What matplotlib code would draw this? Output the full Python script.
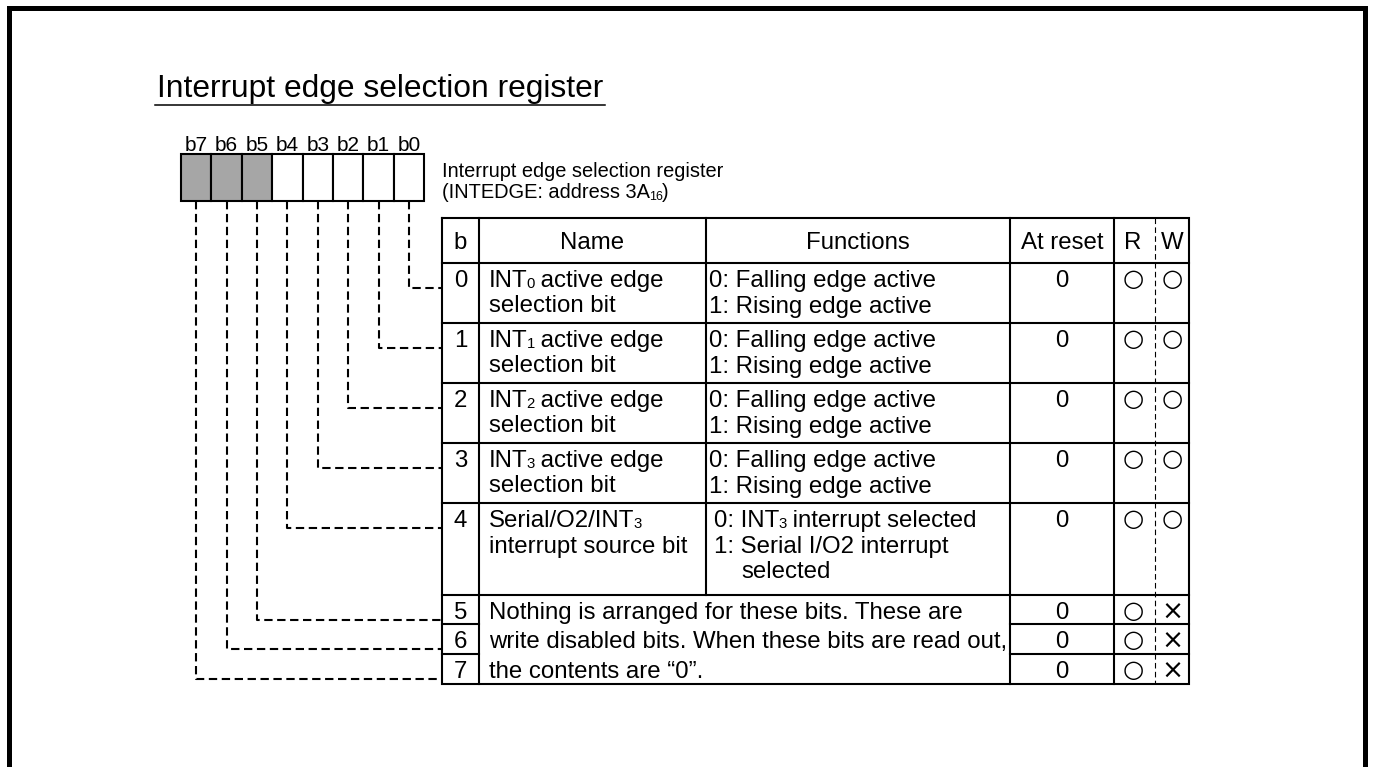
import re
import matplotlib.pyplot as plt
from matplotlib.patches import Rectangle

plt.rcParams['font.family'] = ['Liberation Sans', 'DejaVu Sans']

# Data  (subscripts written as _{..})
title = "Interrupt edge selection register"
register_desc = ["Interrupt edge selection register", "(INTEDGE: address 3A_{16})"]
bit_labels = ["b7", "b6", "b5", "b4", "b3", "b2", "b1", "b0"]
bit_unused = [True, True, True, False, False, False, False, False]
headers = ["b", "Name", "Functions", "At reset", "R", "W"]
bit_numbers = ["0", "1", "2", "3", "4", "5", "6", "7"]
names = [
    ["INT_{0} active edge", "selection bit"],
    ["INT_{1} active edge", "selection bit"],
    ["INT_{2} active edge", "selection bit"],
    ["INT_{3} active edge", "selection bit"],
    ["Serial/O2/INT_{3}", "interrupt source bit"],
]
functions = [
    ["0: Falling edge active", "1: Rising edge active"],
    ["0: Falling edge active", "1: Rising edge active"],
    ["0: Falling edge active", "1: Rising edge active"],
    ["0: Falling edge active", "1: Rising edge active"],
    ["0: INT_{3} interrupt selected", "1: Serial I/O2 interrupt", "selected"],
]
unused_note = ["Nothing is arranged for these bits. These are",
               "write disabled bits. When these bits are read out,",
               "the contents are \u201c0\u201d."]
at_reset = ["0", "0", "0", "0", "0", "0", "0", "0"]
readable = ["\u25cb", "\u25cb", "\u25cb", "\u25cb", "\u25cb", "\u25cb", "\u25cb", "\u25cb"]
writable = ["\u25cb", "\u25cb", "\u25cb", "\u25cb", "\u25cb", "\u00d7", "\u00d7", "\u00d7"]

# Layout (pixels, y grows downward)
W, H = 1374, 767
COLS = [442, 479, 706, 1010, 1114, 1189]
RW_SPLIT = 1155
R_X, W_X = 1133, 1172
ROWS = [218, 263, 323, 383, 443, 503, 595, 624, 654, 684]
BOX_X0, BOX_W, BOX_Y0, BOX_Y1 = 181, 30.4, 154, 201
LINE = 25.5
LW = 1.5
FS = 17.3

fig = plt.figure(figsize=(W / 100, H / 100), dpi=100)
ax = fig.add_axes([0, 0, 1, 1])
ax.set_xlim(0, W)
ax.set_ylim(H, 0)
ax.axis('off')
renderer = fig.canvas.get_renderer()


def rich(x, y, s, size):
    # draw text with small baseline subscripts, left aligned at baseline y
    parts = re.split(r"_\{(.*?)\}", s)
    for k, part in enumerate(parts):
        if not part:
            continue
        small = k % 2 == 1
        t = ax.text(x, y + (1.5 if small else 0), part, fontsize=size * (0.62 if small else 1),
                    va='baseline', ha='left')
        x += t.get_window_extent(renderer).width - 1


# outer frame (open at bottom)
ax.plot([8.5, 8.5, 1364.5, 1364.5], [H + 5, 7.5, 7.5, H + 5], color='black', lw=3.6,
        solid_joinstyle='miter')

# title
ax.text(157, 97, title, fontsize=22.9, va='baseline', ha='left')
ax.plot([155, 605], [105, 105], color='black', lw=1.1)

# bit boxes
for i, (lab, unused) in enumerate(zip(bit_labels, bit_unused)):
    x0 = BOX_X0 + i * BOX_W
    ax.add_patch(Rectangle((x0, BOX_Y0), BOX_W, BOX_Y1 - BOX_Y0,
                           facecolor='#a6a6a6' if unused else 'white',
                           edgecolor='black', lw=LW, zorder=3))
    ax.text(x0 + BOX_W / 2, 151, lab, fontsize=15, ha='center', va='baseline')

# register description
for k, line in enumerate(register_desc):
    rich(442, 177 + k * 21, line, 14.4)

# connectors from bits to table rows
for i, lab in enumerate(bit_labels):
    n = int(lab[1])
    xc = BOX_X0 + i * BOX_W + BOX_W / 2
    yc = ROWS[n + 1] + 24.5
    ax.plot([xc, xc, COLS[0]], [BOX_Y1, yc, yc], color='black', lw=LW,
            linestyle=(0, (4, 2.2)))

# table grid
top, bot = ROWS[0], ROWS[-1]
ax.plot([COLS[0], COLS[-1], COLS[-1], COLS[0], COLS[0]], [top, top, bot, bot, top],
        color='black', lw=LW, solid_joinstyle='miter')
for y in ROWS[1:7]:
    ax.plot([COLS[0], COLS[-1]], [y, y], color='black', lw=LW)
for y in ROWS[7:9]:
    ax.plot([COLS[0], COLS[1]], [y, y], color='black', lw=LW)
    ax.plot([COLS[3], COLS[-1]], [y, y], color='black', lw=LW)
for x in (COLS[1], COLS[3], COLS[4]):
    ax.plot([x, x], [top, bot], color='black', lw=LW)
ax.plot([COLS[2], COLS[2]], [top, ROWS[6]], color='black', lw=LW)
ax.plot([RW_SPLIT, RW_SPLIT], [top, bot], color='black', lw=0.8, linestyle=(0, (5, 3)))

# header
hy = 249
centers = [(COLS[0] + COLS[1]) / 2, (COLS[1] + COLS[2]) / 2, (COLS[2] + COLS[3]) / 2,
           (COLS[3] + COLS[4]) / 2, R_X, W_X]
for h, xc in zip(headers, centers):
    ax.text(xc, hy, h, fontsize=FS, ha='center', va='baseline')

sym = dict(ha='center', va='center', family='DejaVu Sans')
for n in range(8):
    yb = ROWS[n + 1] + 24
    ax.text(centers[0], yb, bit_numbers[n], fontsize=FS, ha='center', va='baseline')
    ax.text(centers[3], yb, at_reset[n], fontsize=FS, ha='center', va='baseline')
    ax.text(R_X, yb - 8, readable[n], fontsize=17.5, **sym)
    if writable[n] == "\u00d7":
        ax.text(W_X, yb - 6.5, writable[n], fontsize=19, **sym)
    else:
        ax.text(W_X, yb - 8, writable[n], fontsize=17.5, **sym)
    if n < len(names):
        for k, line in enumerate(names[n]):
            rich(489, yb + k * LINE, line, FS)
        fx = 709 if n < 4 else 714
        for k, line in enumerate(functions[n]):
            indent = 0 if line[:2] in ("0:", "1:") else 27
            rich(fx + indent, yb + k * LINE, line, FS)

for k, line in enumerate(unused_note):
    ax.text(489, ROWS[6 + k] + 24, line, fontsize=FS, va='baseline', ha='left')

fig.savefig('out.png', dpi=100)
